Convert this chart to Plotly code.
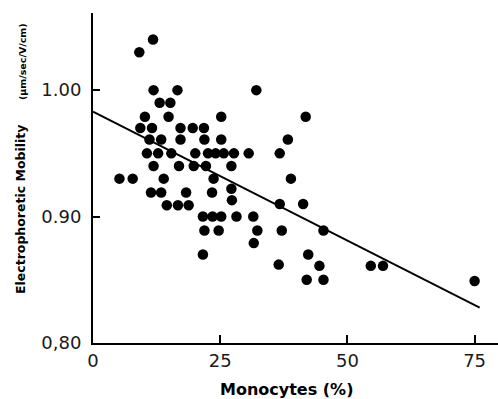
import plotly.graph_objects as go

# Data (Monocytes %, electrophoretic mobility)
monocytes = [
    11.8,
    9.1,
    11.9, 16.6, 32.1,
    13.1, 15.2,
    10.2, 14.85, 25.2, 41.8,
    9.3, 11.6, 17.2, 19.6, 21.8,
    11.1, 13.4, 17.2, 21.9, 25.2, 38.3,
    10.6, 12.8, 15.4, 20.1, 22.6, 24.1, 25.7, 27.7, 30.6, 36.7,
    11.9, 16.9, 19.8, 22.2, 27.2,
    5.2, 7.8, 13.9, 23.7, 38.9,
    11.4, 13.4, 18.3, 23.4, 27.2, 27.3,
    14.5, 16.7, 18.8, 36.7, 41.3,
    21.6, 23.5, 25.2, 28.2, 31.5,
    21.9, 24.7, 32.3, 37.1, 45.3,
    31.6,
    21.6, 42.3,
    36.5, 44.5, 54.6, 57.0,
    42.0, 45.3, 75.0,
]
mobility = [
    1.040,
    1.030,
    1.000, 1.000, 1.000,
    0.990, 0.990,
    0.979, 0.979, 0.979, 0.979,
    0.970, 0.970, 0.970, 0.970, 0.970,
    0.961, 0.961, 0.961, 0.961, 0.961, 0.961,
    0.950, 0.950, 0.950, 0.950, 0.950, 0.950, 0.950, 0.950, 0.950, 0.950,
    0.940, 0.940, 0.940, 0.940, 0.940,
    0.930, 0.930, 0.930, 0.930, 0.930,
    0.919, 0.919, 0.919, 0.919, 0.922, 0.913,
    0.909, 0.909, 0.909, 0.910, 0.910,
    0.900, 0.900, 0.900, 0.900, 0.900,
    0.889, 0.889, 0.889, 0.889, 0.889,
    0.879,
    0.870, 0.870,
    0.862, 0.861, 0.861, 0.861,
    0.850, 0.850, 0.849,
]

fit_x = [0, 76]
fit_y = [0.983, 0.828]

x_tickvals = [0, 25, 50, 75]
x_ticktext = ["0", "25", "50", "75"]
y_tickvals = [0.80, 0.90, 1.00]
y_ticktext = ["0,80", "0.90", "1.00"]

fig = go.Figure()
fig.add_trace(go.Scatter(x=fit_x, y=fit_y, mode="lines",
                         line=dict(color="black", width=1.8),
                         hoverinfo="skip", showlegend=False))
fig.add_trace(go.Scatter(x=monocytes, y=mobility, mode="markers",
                         marker=dict(color="black", size=10.5, line=dict(width=0)),
                         showlegend=False))

tickfont = dict(family="DejaVu Sans", size=18, color="#1a1a1a")
titlefam = "DejaVu Sans"

fig.update_layout(
    width=498, height=399,
    margin=dict(l=93, r=0, t=13, b=56),
    paper_bgcolor="white", plot_bgcolor="white",
    xaxis=dict(range=[0, 79.6], tickvals=x_tickvals, ticktext=x_ticktext,
               showgrid=False, zeroline=False, showline=True, linecolor="black",
               linewidth=2, ticks="inside", ticklen=8, tickwidth=1.5,
               tickcolor="black", tickfont=tickfont),
    yaxis=dict(range=[0.80, 1.061], tickvals=y_tickvals, ticktext=y_ticktext,
               showgrid=False, zeroline=False, showline=True, linecolor="black",
               linewidth=2, ticks="inside", ticklen=7, tickwidth=1.5,
               tickcolor="black", tickfont=tickfont, ticklabelstandoff=6),
    annotations=[
        dict(text="<b>Monocytes (%)</b>", xref="paper", yref="paper",
             x=0.478, y=0, xanchor="center", yanchor="middle", yshift=-46,
             showarrow=False,
             font=dict(family=titlefam, size=16, color="black")),
        dict(text="<b>Electrophoretic Mobility</b>", xref="paper", yref="paper",
             x=0, y=0.406, xanchor="center", yanchor="middle", xshift=-73,
             textangle=-90, showarrow=False,
             font=dict(family=titlefam, size=12.5, color="black")),
        dict(text="<b>(μm/sec/V/cm)</b>", xref="paper", yref="paper",
             x=0, y=0.8515, xanchor="center", yanchor="middle", xshift=-71,
             textangle=-90, showarrow=False,
             font=dict(family=titlefam, size=9.5, color="black")),
    ],
)

fig.write_html("out.html")
